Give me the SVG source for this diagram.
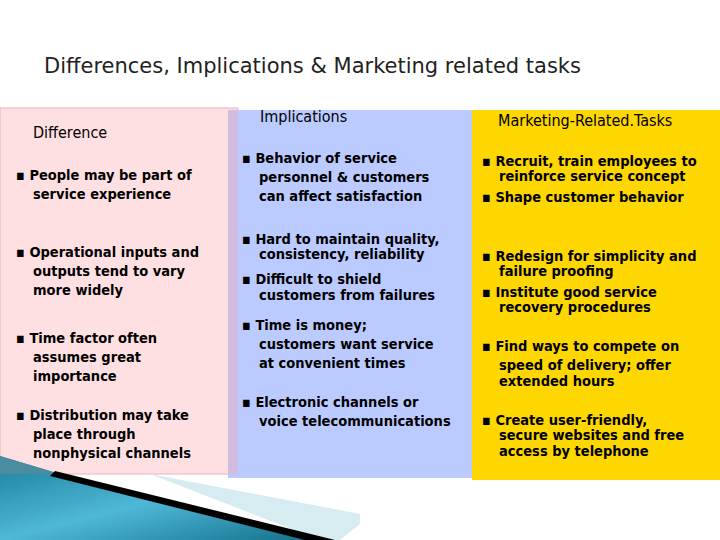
<svg xmlns="http://www.w3.org/2000/svg" width="720" height="540" viewBox="0 0 720 540">
<defs>
<linearGradient id="teal" x1="0" y1="0" x2="1" y2="1"><stop offset="0" stop-color="#1a7f9a"/><stop offset="0.5" stop-color="#4fb8d6"/><stop offset="1" stop-color="#0f6d88"/></linearGradient>
</defs>
<style>
text{font-family:"DejaVu Sans Condensed","DejaVu Sans",sans-serif;fill:#000}
.t{font-size:14.5px;font-weight:bold}
.h{font-size:16px}
.title{font-size:21px;fill:#222;font-family:"DejaVu Sans",sans-serif}
</style>
<rect width="720" height="540" fill="#fff"/>
<text class="title" x="44" y="73">Differences, Implications &amp; Marketing related tasks</text>
<g id="col-difference">
<rect x="0" y="108" width="238" height="366" fill="#ffe0e2" stroke="#e8b0c8"/>
<text class="h" x="33" y="138">Difference</text>
<text class="t"><tspan x="16" y="180">▪ People may be part of</tspan><tspan x="33" y="199">service experience</tspan>
<tspan x="16" y="257">▪ Operational inputs and</tspan><tspan x="33" y="276">outputs tend to vary</tspan><tspan x="33" y="295">more widely</tspan>
<tspan x="16" y="343">▪ Time factor often</tspan><tspan x="33" y="362">assumes great</tspan><tspan x="33" y="381">importance</tspan>
<tspan x="16" y="420">▪ Distribution may take</tspan><tspan x="33" y="439">place through</tspan><tspan x="33" y="458">nonphysical channels</tspan></text>
</g>
<g id="col-implications">
<rect x="228" y="110" width="244" height="368" fill="#bccbff"/>
<rect x="228" y="110" width="10" height="364" fill="#d2bce0"/>
<text class="h" x="260" y="122">Implications</text>
<text class="t"><tspan x="242" y="163">▪ Behavior of service</tspan><tspan x="259" y="182">personnel &amp; customers</tspan><tspan x="259" y="201">can affect satisfaction</tspan>
<tspan x="242" y="244">▪ Hard to maintain quality,</tspan><tspan x="259" y="259">consistency, reliability</tspan>
<tspan x="242" y="284">▪ Difficult to shield</tspan><tspan x="259" y="300">customers from failures</tspan>
<tspan x="242" y="330">▪ Time is money;</tspan><tspan x="259" y="349">customers want service</tspan><tspan x="259" y="368">at convenient times</tspan>
<tspan x="242" y="407">▪ Electronic channels or</tspan><tspan x="259" y="426">voice telecommunications</tspan></text>
</g>
<g id="col-marketing">
<rect x="472" y="110" width="248" height="370" fill="#ffd700"/>
<text class="h" x="498" y="126">Marketing-Related.Tasks</text>
<text class="t"><tspan x="482" y="166">▪ Recruit, train employees to</tspan><tspan x="499" y="181">reinforce service concept</tspan>
<tspan x="482" y="202">▪ Shape customer behavior</tspan>
<tspan x="482" y="261">▪ Redesign for simplicity and</tspan><tspan x="499" y="276">failure proofing</tspan>
<tspan x="482" y="297">▪ Institute good service</tspan><tspan x="499" y="312">recovery procedures</tspan>
<tspan x="482" y="351">▪ Find ways to compete on</tspan><tspan x="499" y="370">speed of delivery; offer</tspan><tspan x="499" y="386">extended hours</tspan>
<tspan x="482" y="425">▪ Create user-friendly,</tspan><tspan x="499" y="440">secure websites and free</tspan><tspan x="499" y="456">access by telephone</tspan></text>
</g>
<g id="decoration">
<polygon points="150,474 360,514 360,524 340,540 320,540" fill="#d6ecf0"/>
<polygon points="0,456 60,474 330,540 0,540" fill="url(#teal)"/>
<polygon points="0,456 60,474 0,474" fill="#4a8ca0"/>
<polygon points="55,471 335,540 305,540 50,476" fill="#000"/>
</g>
<g id="connectors"/>
</svg>
